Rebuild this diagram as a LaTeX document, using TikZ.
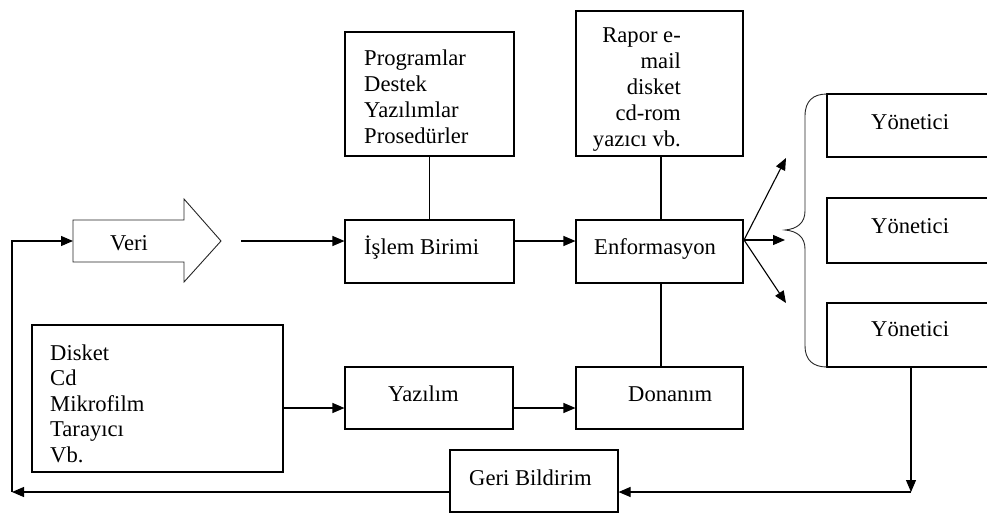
\documentclass[tikz,border=0pt]{standalone}
\usepackage{fontspec}
\setmainfont{Liberation Serif}
\usetikzlibrary{arrows.meta}

\tikzset{
  box/.style={draw, rectangle, line width=1.1pt, inner sep=0pt},
  txt/.style={inner sep=0pt, font=\fontsize{22.6}{26}\selectfont},
  link/.style={line width=1.1pt},
  arr/.style={line width=1.1pt, -{Triangle[length=12pt,width=10pt]}},
  outline/.style={line width=0.9pt, draw=black!85}
}

\begin{document}
\begin{tikzpicture}[x=1pt, y=-1pt]
  \useasboundingbox (0,0) rectangle (987,514);
  \clip (0,0) rectangle (987,514);

  % boxes
  \node[box, minimum width=169pt, minimum height=124pt] (prog)  at (429.5,94)   {};
  \node[box, minimum width=169pt, minimum height=63pt]  (islem) at (429.5,251.5) {};
  \node[box, minimum width=167pt, minimum height=145pt] (rapor) at (659.5,83.5) {};
  \node[box, minimum width=167pt, minimum height=63pt]  (enf)   at (659.5,251.5) {};
  \node[box, minimum width=251pt, minimum height=147pt] (disk)  at (157.5,398.5) {};
  \node[box, minimum width=168pt, minimum height=62pt]  (yaz)   at (429,398)    {};
  \node[box, minimum width=167pt, minimum height=62pt]  (don)   at (659.5,398)  {};
  \node[box, minimum width=168pt, minimum height=62pt]  (geri)  at (534,481)    {};
  \node[box, minimum width=173pt, minimum height=63pt]  (yon1)  at (913.5,125.5) {};
  \node[box, minimum width=173pt, minimum height=65pt]  (yon2)  at (913.5,230.5) {};
  \node[box, minimum width=173pt, minimum height=64pt]  (yon3)  at (913.5,335)  {};

  % the "Veri" block arrow
  \draw[outline, fill=white] (73,220) -- (184,220) -- (184,199) -- (221,241)
        -- (184,282) -- (184,262) -- (73,262) -- cycle;
  \coordinate (veritail) at (73,241);
  \coordinate (veritip)  at (241,241);

  % texts
  \node[txt, anchor=base west] (tveri)  at (110,250) {Veri};
  \node[txt, anchor=base west] (tislem) at (364,254) {İşlem Birimi};
  \node[txt, anchor=base west] (tenf)   at (594,254) {Enformasyon};
  \node[txt, anchor=base west] (tyaz)   at (388,401) {Yazılım};
  \node[txt, anchor=base west] (tdon)   at (628,401) {Donanım};
  \node[txt, anchor=base west] (tgeri)  at (469,485) {Geri Bildirim};
  \node[txt, anchor=base west] (tyon1)  at (871,129) {Yönetici};
  \node[txt, anchor=base west] (tyon2)  at (871,233) {Yönetici};
  \node[txt, anchor=base west] (tyon3)  at (871,336) {Yönetici};
  \node[txt, anchor=base west] (tprog)  at (364,65)
    {\begin{tabular}[t]{@{}l@{}}Programlar\\Destek\\Yazılımlar\\Prosedürler\end{tabular}};
  \node[txt, anchor=base east] (trapor) at (681,42)
    {\begin{tabular}[t]{@{}r@{}}Rapor e-\\mail\\disket\\cd-rom\\yazıcı vb.\end{tabular}};
  \node[txt, anchor=base west, font=\fontsize{22.6}{25.6}\selectfont] (tdisk) at (50,360)
    {\begin{tabular}[t]{@{}l@{}}Disket\\Cd\\Mikrofilm\\Tarayıcı\\Vb.\end{tabular}};

  % plain links
  \draw[link] (prog.south) -- (islem.north);
  \draw[link] (rapor.south -| 661,0) -- (enf.north -| 661,0);
  \draw[link] (enf.south -| 661,0) -- (don.north -| 661,0);

  % main flow
  \draw[arr] (veritip) -- (veritip -| islem.west);
  \draw[arr] (veritip -| islem.east) -- (veritip -| enf.west);

  \coordinate (lvl) at (0,408);
  \draw[arr] (disk.east |- lvl) -- (yaz.west |- lvl);
  \draw[arr] (yaz.east |- lvl) -- (don.west |- lvl);

  % distribution to the managers
  \coordinate (fan) at (744,240);
  \coordinate (t1) at (786,158);
  \coordinate (t2) at (785,240);
  \coordinate (t3) at (786,303);
  \draw[arr] (fan) -- (t1);
  \draw[arr] (fan) -- (t2);
  \draw[arr] (fan) -- (t3);

  % brace grouping the managers
  \draw[outline] (827,94) .. controls (813,94) and (805,101) .. (805,116)
        -- (805,211) .. controls (805,223) and (797,229) .. (785,230)
        .. controls (797,231) and (805,237) .. (805,249)
        -- (805,346) .. controls (805,360) and (813,367) .. (827,367);

  % feedback loop
  \coordinate (fbR) at (911,492);
  \coordinate (fbL) at (12,492);
  \coordinate (fbT) at (12,241);
  \draw[arr] (yon3.south -| fbR) -- (fbR);
  \draw[arr] (fbR) -- (fbR -| geri.east);
  \draw[arr] (fbR -| geri.west) -- (fbL);
  \draw[arr] (fbL) -- (fbT) -- (veritail);
\end{tikzpicture}
\end{document}
